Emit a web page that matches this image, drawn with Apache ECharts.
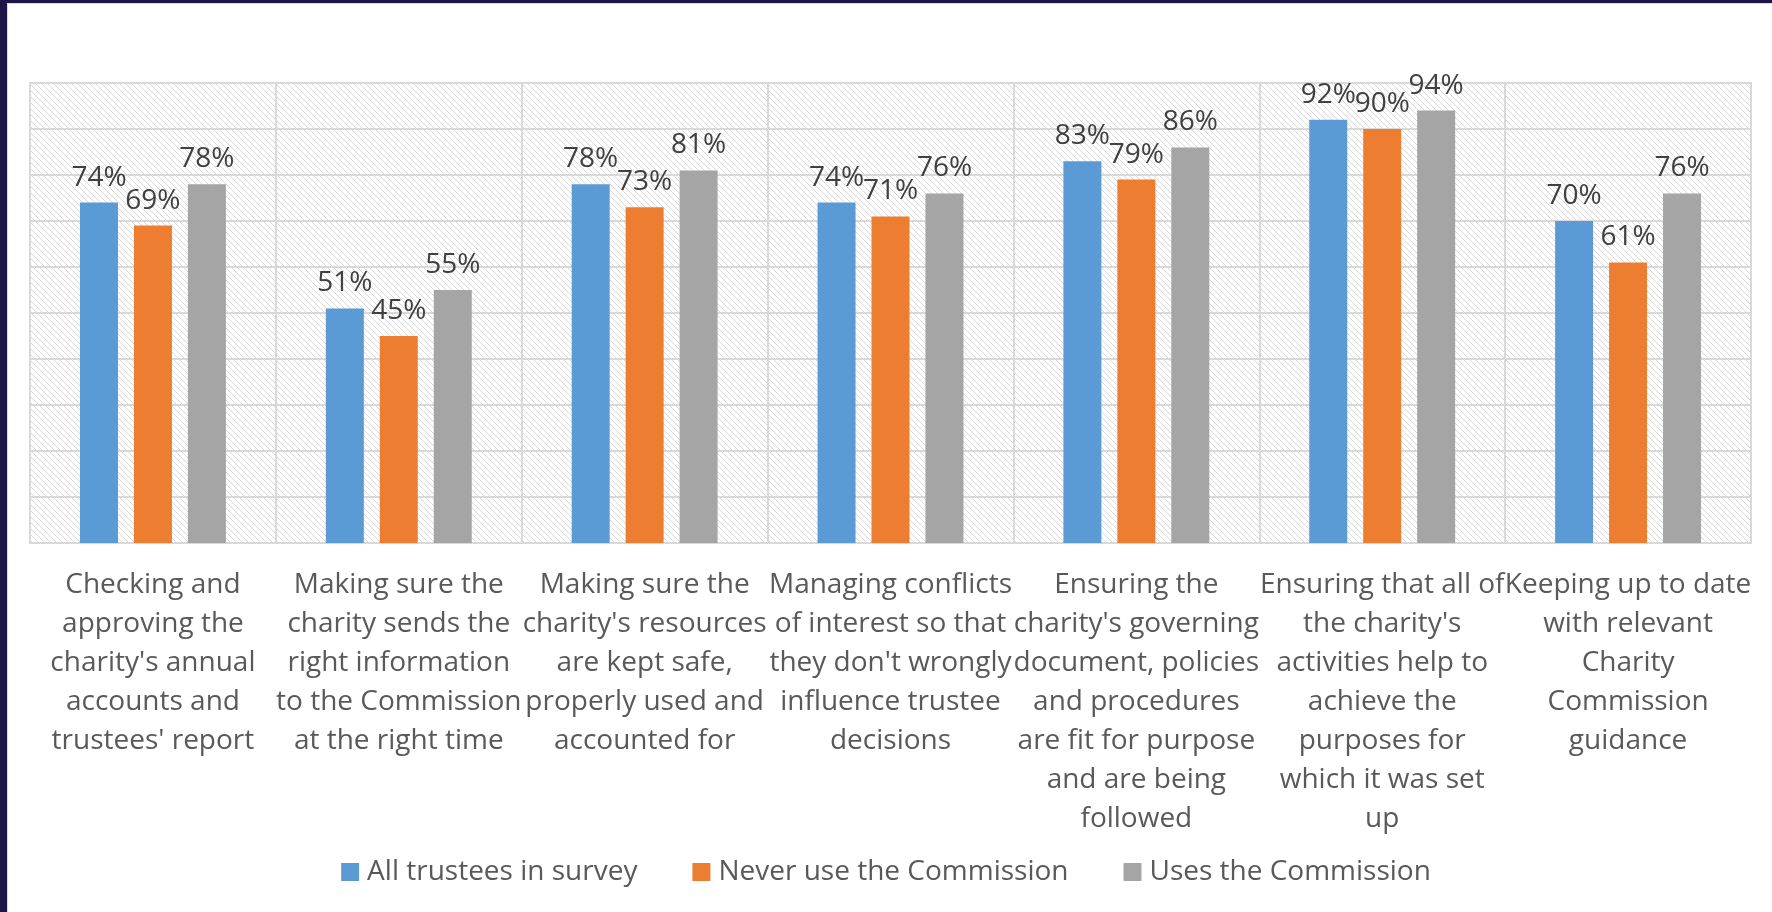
<!DOCTYPE html>
<html>
<head>
<meta charset="utf-8">
<script src="https://cdn.jsdelivr.net/npm/echarts@6/dist/echarts.min.js"></script>
<style>
  html, body { margin: 0; padding: 0; background: #fff; }
  #chart { position: absolute; left: 0; top: 0; width: 1772px; height: 912px; }
  .edge { position: absolute; background: #1e1448; }
  .line { position: absolute; background: #d9d9d9; }
</style>
</head>
<body>
<div id="chart"></div>
<div class="edge" style="left:0;top:0;width:7px;height:912px"></div>
<div class="edge" style="left:0;top:0;width:1772px;height:3px"></div>
<div class="line" style="left:7px;top:3px;width:1px;height:909px"></div>
<div class="line" style="left:7px;top:3px;width:1765px;height:1px"></div>
<script>
  // categories, with the line breaks used in the picture
  const categories = [
    'Checking and\napproving the\ncharity\'s annual\naccounts and\ntrustees\' report',
    'Making sure the\ncharity sends the\nright information\nto the Commission\nat the right time',
    'Making sure the\ncharity\'s resources\nare kept safe,\nproperly used and\naccounted for',
    'Managing conflicts\nof interest so that\nthey don\'t wrongly\ninfluence trustee\ndecisions',
    'Ensuring the\ncharity\'s governing\ndocument, policies\nand procedures\nare fit for purpose\nand are being\nfollowed',
    'Ensuring that all of\nthe charity\'s\nactivities help to\nachieve the\npurposes for\nwhich it was set\nup',
    'Keeping up to date\nwith relevant\nCharity\nCommission\nguidance'
  ]
  const seriesNames = ['All trustees in survey', 'Never use the Commission', 'Uses the Commission']
  const allTrustees = [74, 51, 78, 74, 83, 92, 70]
  const neverUse = [69, 45, 73, 71, 79, 90, 61]
  const usesCommission = [78, 55, 81, 76, 86, 94, 76]
  const colors = ['#5b9bd5', '#ed7d31', '#a5a5a5']

  // light diagonal hatch for the plot background
  const hatch = document.createElement('canvas')
  hatch.width = 6
  hatch.height = 6
  const hctx = hatch.getContext('2d')
  hctx.fillStyle = '#ffffff'
  hctx.fillRect(0, 0, 6, 6)
  hctx.strokeStyle = '#d9d9d9'
  hctx.lineWidth = 1
  hctx.beginPath()
  hctx.moveTo(-1, -1); hctx.lineTo(7, 7)
  hctx.moveTo(-1, 5); hctx.lineTo(1, 7)
  hctx.moveTo(5, -1); hctx.lineTo(7, 1)
  hctx.stroke()

  const chart = echarts.init(document.getElementById('chart'))

  const labelStyle = {
    show: true,
    position: 'top',
    distance: 11,
    formatter: '{c}%',
    fontFamily: 'Open Sans',
    fontSize: 28,
    color: '#404040'
  }

  function makeSeries(name, data, color) {
    return {
      name: name,
      type: 'bar',
      data: data,
      barWidth: 38,
      barGap: '42%',
      itemStyle: { color: color },
      label: labelStyle
    }
  }

  chart.setOption({
    animation: false,
    grid: {
      left: 30,
      right: 21,
      top: 83,
      bottom: 369,
      show: true,
      borderColor: '#d9d9d9',
      borderWidth: 2,
      backgroundColor: { image: hatch, repeat: 'repeat' }
    },
    legend: {
      data: seriesNames,
      left: 'center',
      top: 853,
      itemWidth: 18,
      itemHeight: 18,
      itemGap: 55,
      icon: 'rect',
      textStyle: { fontFamily: 'Open Sans', fontSize: 28, color: '#595959', padding: [0, 0, 0, 3] }
    },
    xAxis: {
      type: 'category',
      data: categories,
      axisTick: { show: false },
      axisLine: { lineStyle: { color: '#d9d9d9', width: 2 } },
      splitLine: { show: true, lineStyle: { color: '#d9d9d9', width: 2 } },
      axisLabel: {
        interval: 0,
        margin: 23,
        fontFamily: 'Open Sans',
        fontSize: 28,
        lineHeight: 39,
        color: '#595959'
      }
    },
    yAxis: {
      type: 'value',
      min: 0,
      max: 100,
      interval: 10,
      axisLabel: { show: false },
      axisLine: { show: false },
      axisTick: { show: false },
      splitLine: { lineStyle: { color: '#d9d9d9', width: 2 } }
    },
    series: [
      makeSeries(seriesNames[0], allTrustees, colors[0]),
      makeSeries(seriesNames[1], neverUse, colors[1]),
      makeSeries(seriesNames[2], usesCommission, colors[2])
    ]
  })
</script>
</body>
</html>
